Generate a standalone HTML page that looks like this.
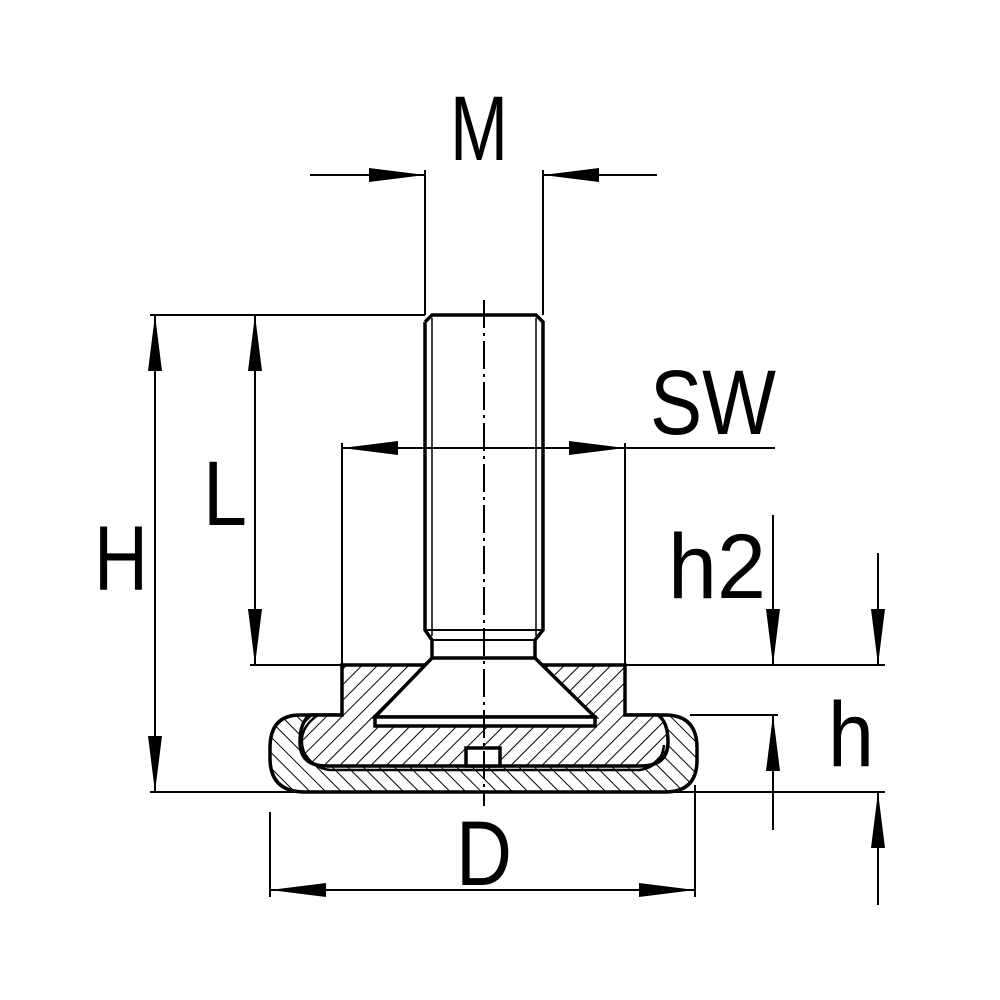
<!DOCTYPE html>
<html><head><style>html,body{margin:0;padding:0;background:#fff}svg{display:block}</style></head>
<body>
<svg width="1000" height="1000" viewBox="0 0 1000 1000" xmlns="http://www.w3.org/2000/svg">
<defs>
<pattern id="hA" patternUnits="userSpaceOnUse" width="11" height="11" patternTransform="rotate(45)">
<rect width="11" height="11" fill="#fff"/><line x1="0" y1="0" x2="0" y2="11" stroke="#000" stroke-width="2"/></pattern>
<pattern id="hB" patternUnits="userSpaceOnUse" width="11" height="11" patternTransform="rotate(-45)">
<rect width="11" height="11" fill="#fff"/><line x1="0" y1="0" x2="0" y2="11" stroke="#000" stroke-width="2"/></pattern>
<marker id="ar" viewBox="0 0 56 14" refX="56" refY="7" markerWidth="56" markerHeight="14" markerUnits="userSpaceOnUse" orient="auto-start-reverse">
<path d="M0,0 L56,7 L0,14 Z" fill="#000"/></marker>
</defs>
<g stroke="#000" fill="none">
<path d="M300 715 L665 715 Q697 715 697 748 L697 760 Q697 792 665 792 L305 792 Q270 792 270 758 L270 748 Q270 715 300 715 Z" fill="url(#hB)" stroke-width="3.5"/>
<path d="M342 665 L625 665 L625 715 L658 715 Q668 722 668 742 Q668 766 640 766 L327 766 Q300 766 300 742 Q300 722 310 715 L342 715 Z" fill="url(#hA)" stroke-width="3.5"/>
<path d="M318 715 Q296 730 304 752 Q312 768 330 770 L640 770 Q662 766 664 745" stroke-width="2.5"/>
<path d="M432 658 L535 658 L595 717 L375 717 Z" fill="#fff" stroke-width="3.5"/>
<rect x="375" y="717" width="220" height="9" fill="#fff" stroke-width="3.5"/>
<rect x="466" y="748" width="34" height="18" fill="#fff" stroke-width="3.5"/>
<path d="M425 322 L432 315 L536 315 L543 322 L543 630 L535 640 L535 658 M425 322 L425 630 L432 640 L432 658" stroke-width="3.5" fill="#fff"/>
<line x1="432" y1="318" x2="432" y2="636" stroke-width="1.5"/>
<line x1="536" y1="318" x2="536" y2="636" stroke-width="1.5"/>
<line x1="425" y1="630" x2="543" y2="630" stroke-width="2"/>
<line x1="432" y1="640" x2="535" y2="640" stroke-width="2"/>
<line x1="484" y1="300" x2="484" y2="806" stroke-width="2" stroke-dasharray="28,5,3,5"/>
<g stroke-width="2">
<line x1="425" y1="170" x2="425" y2="315"/><line x1="543" y1="170" x2="543" y2="315"/>
<line x1="310" y1="175" x2="425" y2="175" marker-end="url(#ar)"/>
<line x1="657" y1="175" x2="543" y2="175" marker-end="url(#ar)"/>
<line x1="150" y1="315" x2="425" y2="315"/>
<line x1="150" y1="792" x2="680" y2="792"/>
<line x1="155" y1="315" x2="155" y2="792" marker-start="url(#ar)" marker-end="url(#ar)"/>
<line x1="250" y1="665" x2="342" y2="665"/>
<line x1="255" y1="315" x2="255" y2="665" marker-start="url(#ar)" marker-end="url(#ar)"/>
<line x1="342" y1="443" x2="342" y2="665"/><line x1="625" y1="443" x2="625" y2="665"/>
<line x1="342" y1="448" x2="775" y2="448"/>
<line x1="342" y1="448" x2="420" y2="448" marker-start="url(#ar)"/>
<line x1="550" y1="448" x2="625" y2="448" marker-end="url(#ar)"/>
<line x1="625" y1="665" x2="885" y2="665"/>
<line x1="690" y1="715" x2="778" y2="715"/>
<line x1="773" y1="515" x2="773" y2="665" marker-end="url(#ar)"/>
<line x1="773" y1="830" x2="773" y2="715" marker-end="url(#ar)"/>
<line x1="680" y1="792" x2="885" y2="792"/>
<line x1="878" y1="553" x2="878" y2="665" marker-end="url(#ar)"/>
<line x1="878" y1="905" x2="878" y2="792" marker-end="url(#ar)"/>
<line x1="270" y1="812" x2="270" y2="897"/><line x1="695" y1="785" x2="695" y2="897"/>
<line x1="270" y1="890" x2="695" y2="890" marker-start="url(#ar)" marker-end="url(#ar)"/>
</g>
</g>
<g font-family="Liberation Sans, sans-serif" font-size="92" fill="#000">
<text x="450" y="160" textLength="58" lengthAdjust="spacingAndGlyphs">M</text>
<text x="94" y="590" textLength="54" lengthAdjust="spacingAndGlyphs">H</text>
<text x="203" y="525" textLength="44" lengthAdjust="spacingAndGlyphs">L</text>
<text x="650" y="434" textLength="126" lengthAdjust="spacingAndGlyphs">SW</text>
<text x="668" y="598" textLength="98" lengthAdjust="spacingAndGlyphs">h2</text>
<text x="828" y="766" textLength="46" lengthAdjust="spacingAndGlyphs">h</text>
<text x="456" y="885" textLength="56" lengthAdjust="spacingAndGlyphs">D</text>
</g>
</svg>
</body></html>
